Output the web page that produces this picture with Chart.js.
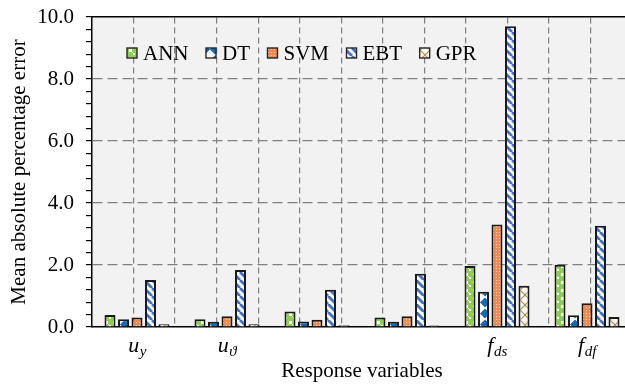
<!DOCTYPE html>
<html>
<head>
<meta charset="utf-8">
<script src="https://cdn.jsdelivr.net/npm/chart.js@4/dist/chart.umd.min.js"></script>
<style>
  html, body { margin: 0; padding: 0; background: #fff; overflow: hidden; }
  #wrap { width: 640px; height: 384px; }
</style>
</head>
<body>
<div id="wrap"><canvas id="chart" width="640" height="384"></canvas></div>
<script>
// response variables: [symbol, subscript]
const CATEGORIES = [["u", "y"], ["u", "\u03d1"], ["", ""], ["", ""], ["f", "ds"], ["f", "df"]];
const MODELS = ["ANN", "DT", "SVM", "EBT", "GPR"];

const ANN = [0.39, 0.25, 0.50, 0.31, 1.97, 2.01];
const DT = [0.25, 0.17, 0.18, 0.17, 1.14, 0.38];
const SVM = [0.31, 0.35, 0.23, 0.35, 3.31, 0.77];
const EBT = [1.52, 1.84, 1.20, 1.72, 9.70, 3.27];
const GPR = [0.09, 0.09, 0.06, 0.05, 1.33, 0.32];

const Y_MIN = 0;
const Y_MAX = 10;
const Y_MINOR_STEP = 0.4;
const Y_MAJOR_STEP = 2;

const SERIF = "'Liberation Serif', 'Times New Roman', serif";

function tile(w, h, draw) {
  const c = document.createElement("canvas");
  c.width = w;
  c.height = h;
  draw(c.getContext("2d"), w, h);
  return c.getContext("2d").createPattern(c, "repeat");
}

const ctx0 = document.getElementById("chart").getContext("2d");

const PATTERNS = {
  ANN: tile(8, 8, (g, w, h) => {
    g.fillStyle = "#8fcf4e";
    g.fillRect(0, 0, w, h);
    g.fillStyle = "#ffffff";
    g.fillRect(1, 1, 3, 3);
    g.fillRect(5, 5, 2, 2);
    g.fillRect(4, 4, 1, 1);
  }),
  DT: tile(10, 11, (g, w, h) => {
    g.fillStyle = "#ffffff";
    g.fillRect(0, 0, w, h);
    g.fillStyle = "#1068b8";
    g.beginPath();
    g.moveTo(w / 2, 0.5);
    g.lineTo(w, h / 2);
    g.lineTo(w / 2, h - 0.5);
    g.lineTo(0, h / 2);
    g.closePath();
    g.fill();
  }),
  SVM: tile(3, 3, (g, w, h) => {
    g.fillStyle = "#f08a4e";
    g.fillRect(0, 0, w, h);
    g.fillStyle = "#fbd2b8";
    g.fillRect(1, 1, 1, 1);
  }),
  EBT: tile(8, 8, (g, w, h) => {
    g.fillStyle = "#ffffff";
    g.fillRect(0, 0, w, h);
    g.strokeStyle = "#4472c4";
    g.lineWidth = 2.8;
    for (let k = -1; k <= 1; k++) {
      g.beginPath();
      g.moveTo(k * w, 0);
      g.lineTo(k * w + w, h);
      g.stroke();
    }
  }),
  GPR: tile(10, 10, (g, w, h) => {
    g.fillStyle = "#faf8f2";
    g.fillRect(0, 0, w, h);
    g.strokeStyle = "#a88c52";
    g.lineWidth = 1.1;
    g.beginPath();
    g.moveTo(0, 0);
    g.lineTo(w, h);
    g.moveTo(w, 0);
    g.lineTo(0, h);
    g.stroke();
  }),
};

const SERIES = { ANN, DT, SVM, EBT, GPR };

const plotBackground = {
  id: "plotBackground",
  beforeDraw(chart) {
    const { ctx, chartArea: a } = chart;
    ctx.save();
    ctx.fillStyle = "#f2f2f2";
    ctx.fillRect(a.left, a.top, a.right - a.left, a.bottom - a.top);
    ctx.restore();
  },
};

// category labels with subscripts, placed at the category positions of the x scale
const subscriptLabels = {
  id: "subscriptLabels",
  afterDraw(chart) {
    const { ctx } = chart;
    const xs = chart.scales.x;
    const base = chart.chartArea.bottom + 25;
    ctx.save();
    ctx.fillStyle = "#000";
    ctx.textBaseline = "alphabetic";
    ctx.textAlign = "left";
    CATEGORIES.forEach(([main, sub], i) => {
      if (!main) return;
      ctx.font = `italic 22px ${SERIF}`;
      const w1 = ctx.measureText(main).width;
      ctx.font = `italic 15px ${SERIF}`;
      const w2 = ctx.measureText(sub).width;
      const x0 = xs.getPixelForValue(i) - (w1 + w2) / 2;
      ctx.font = `italic 22px ${SERIF}`;
      ctx.fillText(main, x0, base);
      ctx.font = `italic 15px ${SERIF}`;
      ctx.fillText(sub, x0 + w1 + 0.5, base + 4);
    });
    ctx.restore();
  },
};

// one-row legend inside the plot, top left
const insideLegend = {
  id: "insideLegend",
  afterDatasetsDraw(chart) {
    const { ctx, chartArea: a } = chart;
    const box = 10;
    const gap = 6;
    const spacing = 17.5;
    let x = a.left + 35;
    const y = a.top + 36;
    ctx.save();
    ctx.font = `21px ${SERIF}`;
    ctx.textBaseline = "middle";
    ctx.textAlign = "left";
    chart.data.datasets.forEach((ds) => {
      ctx.fillStyle = ds.backgroundColor;
      ctx.fillRect(x, y - box / 2, box, box);
      ctx.strokeStyle = "#262626";
      ctx.lineWidth = 1.4;
      ctx.strokeRect(x, y - box / 2, box, box);
      ctx.fillStyle = "#000";
      ctx.fillText(ds.label, x + box + gap, y + 1);
      x += box + gap + ctx.measureText(ds.label).width + spacing;
    });
    ctx.restore();
  },
};

function isMajor(v) {
  return Math.abs(v / Y_MAJOR_STEP - Math.round(v / Y_MAJOR_STEP)) < 1e-6;
}

new Chart(ctx0, {
  type: "bar",
  data: {
    labels: CATEGORIES.map((c) => c.join("")),
    datasets: MODELS.map((name) => ({
      label: name,
      data: SERIES[name],
      backgroundColor: PATTERNS[name],
      borderColor: "#1a1a1a",
      borderWidth: 2,
      categoryPercentage: 0.75,
      barPercentage: 0.815,
    })),
  },
  options: {
    responsive: false,
    devicePixelRatio: 1,
    animation: false,
    layout: { padding: { left: 0, right: 8, top: 0, bottom: 0 } },
    plugins: {
      tooltip: { enabled: false },
      legend: { display: false },
    },
    scales: {
      x: {
        type: "category",
        position: "bottom",
        grid: { display: false },
        border: { display: true, color: "#000", width: 1.5 },
        ticks: { display: false },
        title: {
          display: true,
          text: "Response variables",
          color: "#000",
          font: { family: SERIF, size: 21 },
          padding: { top: 0, bottom: 0 },
        },
        afterFit(scale) { scale.height = 57; },
      },
      x2: {
        type: "linear",
        position: "top",
        min: 0,
        max: 12,
        ticks: { display: false, stepSize: 1 },
        grid: {
          color: (c) => (c.tick && c.tick.value > 0 ? "#7f7f7f" : "rgba(0,0,0,0)"),
          lineWidth: 1.2,
          drawTicks: false,
        },
        border: { display: true, color: "#000", width: 1.5, dash: [6, 4] },
        afterFit(scale) { scale.height = 17; },
      },
      y: {
        type: "linear",
        min: Y_MIN,
        max: Y_MAX,
        ticks: {
          stepSize: Y_MINOR_STEP,
          autoSkip: false,
          padding: 12,
          color: "#000",
          font: { family: SERIF, size: 21, lineHeight: 1 },
          callback: (v) => (isMajor(v) ? Number(v).toFixed(1) : ""),
        },
        grid: {
          color: (c) => {
            const v = c.tick ? c.tick.value : 0;
            return isMajor(v) && v > Y_MIN && v < Y_MAX ? "#7f7f7f" : "rgba(0,0,0,0)";
          },
          lineWidth: 1.2,
          drawTicks: true,
          tickLength: 6,
          tickColor: "#000",
          tickWidth: 1.2,
        },
        border: { display: true, color: "#000", width: 1.5, dash: [10, 5] },
        title: {
          display: true,
          text: "Mean absolute percentage error",
          color: "#000",
          font: { family: SERIF, size: 21 },
          padding: { top: 7, bottom: 0 },
        },
        afterFit(scale) {
          scale.width = 92;
          scale.paddingTop = 0;
          scale.paddingBottom = 0;
        },
      },
    },
  },
  plugins: [plotBackground, subscriptLabels, insideLegend],
});
</script>
</body>
</html>
